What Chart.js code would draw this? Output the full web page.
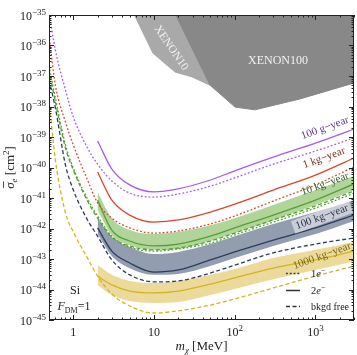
<!DOCTYPE html>
<html>
<head>
<meta charset="utf-8">
<script src="https://cdn.jsdelivr.net/npm/chart.js@4.4.0/dist/chart.umd.min.js"></script>
<style>
  body { margin: 0; background: #fff; }
  canvas { display: block; }
</style>
</head>
<body>
<canvas id="chart" width="357" height="355"></canvas>
<script>
// Dark matter mass grid [MeV]
const massFull = [0.5, 0.6, 0.8, 1, 1.5, 2, 3, 5, 10, 20, 50, 100, 300, 1000, 3000];
const massHigh = [2, 3, 5, 10, 20, 50, 100, 300, 1000, 3000];

// log10 of sigma_e [cm^2]
const purpleDot   = [-34.9, -36.15, -37.46, -38.34, -39.36, -39.89, -40.44, -40.84, -40.97, -40.87, -40.61, -40.34, -39.89, -39.46, -39.03];
const purpleSolid = [-39.13, -40.05, -40.57, -40.80, -40.70, -40.41, -40.11, -39.66, -39.20, -38.74];
const redDot      = [-35.66, -37.30, -38.51, -39.26, -40.41, -41.16, -41.66, -41.98, -42.15, -42.08, -41.85, -41.59, -41.10, -40.57, -39.98];
const redSolid    = [-40.15, -41.07, -41.56, -41.79, -41.72, -41.46, -41.20, -40.74, -40.25, -39.69];
const greenDot    = [-36.67, -37.72, -39.26, -40.02, -41.03, -41.59, -42.25, -42.61, -42.74, -42.67, -42.48, -42.21, -41.79, -41.33, -40.84];
const greenDash   = [-36.80, -37.85, -39.36, -40.08, -41.10, -41.66, -42.28, -42.57, -42.70, -42.64, -42.41, -42.15, -41.72, -41.26, -40.77];
const greenSolid  = [-41.07, -42.05, -42.41, -42.57, -42.51, -42.25, -41.98, -41.56, -41.07, -40.54];
const greenHi     = [-40.80, -41.66, -42.05, -42.18, -42.11, -41.89, -41.66, -41.23, -40.74, -40.28];
const greenLo     = [-41.39, -42.21, -42.54, -42.70, -42.67, -42.41, -42.15, -41.72, -41.23, -40.74];
const navyDash    = [-37.13, -38.05, -39.92, -40.74, -41.72, -42.25, -43.03, -43.52, -43.75, -43.72, -43.46, -43.20, -42.80, -42.51, -42.31];
const navySolid   = [-41.98, -42.74, -43.13, -43.43, -43.36, -43.03, -42.77, -42.38, -41.98, -41.56];
const navyHi      = [-41.66, -42.28, -42.61, -42.84, -42.77, -42.51, -42.25, -41.85, -41.46, -41.07];
const navyLo      = [-42.18, -42.90, -43.30, -43.52, -43.49, -43.23, -42.97, -42.57, -42.18, -41.75];
const goldDash    = [-37.79, -39.75, -41.49, -42.11, -42.97, -43.56, -44.15, -44.54, -44.77, -44.70, -44.51, -44.31, -43.95, -43.56, -43.23];
const goldSolid   = [-43.56, -43.85, -44.05, -44.11, -44.05, -43.82, -43.62, -43.30, -43.03, -42.74];
const goldHi      = [-43.20, -43.52, -43.72, -43.79, -43.72, -43.52, -43.33, -42.97, -42.70, -42.44];
const goldLo      = [-43.85, -44.18, -44.38, -44.44, -44.41, -44.18, -43.98, -43.66, -43.36, -43.07];

// existing limits
const xenon10Mass  = [5.6, 9.7, 18.2, 29.6, 49.4, 100, 1000, 3000];
const xenon10Sigma = [-34.95, -36.25, -36.87, -37.03, -37.30, -37.35, -36.6, -36.2];
const xenon100Mass  = [18.2, 49.4, 101, 178, 646, 3000];
const xenon100Sigma = [-34.95, -37.30, -38.02, -38.11, -37.75, -37.23];

// axis ticks
const xTickValues = [1, 10, 100, 1000];
const xTickLabels = [['1', ''], ['10', ''], ['10', '2'], ['10', '3']];
const yTickExps = [-45, -44, -43, -42, -41, -40, -39, -38, -37, -36, -35];

const SERIF = '"Liberation Serif", "DejaVu Serif", serif';
const PURPLE = '#a65cf2';
const RED = '#d8462c';
const GREEN = '#55a032';
const NAVY = '#2c3c5c';
const GOLD = '#d6b224';
const DOT = [1.8, 2];
const DASH = [4, 2.5];

function pts(ms, ys) {
    return ms.map((m, i) => ({ x: m, y: ys[i] }));
}

const datasets = [];

function addRegion(ms, ys, color, order) {
    datasets.push({
        data: pts(ms, ys), borderColor: color, borderWidth: 1, backgroundColor: color,
        fill: 'end', pointRadius: 0, tension: 0, order: order, clip: 0
    });
}

function addLine(ms, ys, color, dash) {
    datasets.push({
        data: pts(ms, ys), borderColor: color, borderWidth: 1.3, borderDash: dash,
        fill: false, pointRadius: 0, cubicInterpolationMode: 'monotone', order: 3, clip: 0
    });
}

function addBand(ms, hi, lo, color) {
    const i = datasets.length;
    datasets.push({
        data: pts(ms, hi), borderColor: 'transparent', borderWidth: 0,
        fill: false, pointRadius: 0, cubicInterpolationMode: 'monotone', order: 6, clip: 0
    });
    datasets.push({
        data: pts(ms, lo), borderColor: 'transparent', borderWidth: 0, backgroundColor: color,
        fill: { target: i }, pointRadius: 0, cubicInterpolationMode: 'monotone', order: 6, clip: 0
    });
}

addRegion(xenon100Mass, xenon100Sigma, '#888888', 1);
addRegion(xenon10Mass, xenon10Sigma, '#a9a9a9', 2);

addBand(massHigh, greenHi, greenLo, 'rgba(150, 198, 120, 0.75)');
addBand(massHigh, navyHi, navyLo, 'rgba(120, 132, 156, 0.8)');
addBand(massHigh, goldHi, goldLo, 'rgba(228, 205, 120, 0.75)');

addLine(massFull, purpleDot, PURPLE, DOT);
addLine(massHigh, purpleSolid, PURPLE, []);
addLine(massFull, redDot, RED, DOT);
addLine(massHigh, redSolid, RED, []);
addLine(massFull, greenDot, GREEN, DOT);
addLine(massFull, greenDash, GREEN, DASH);
addLine(massHigh, greenSolid, GREEN, []);
addLine(massFull, navyDash, NAVY, DASH);
addLine(massHigh, navySolid, NAVY, []);
addLine(massFull, goldDash, GOLD, DASH);
addLine(massHigh, goldSolid, GOLD, []);

// draw text pieces one after another, returns the pieces with their x
function drawRich(ctx, x, y, segs, align) {
    let w = 0;
    segs.forEach(s => {
        ctx.font = s.font;
        s.w = ctx.measureText(s.t).width;
        w += s.w;
    });
    let cx = align === 'right' ? x - w : align === 'center' ? x - w / 2 : x;
    segs.forEach(s => {
        ctx.font = s.font;
        s.x = cx;
        ctx.fillText(s.t, cx, y + (s.dy || 0));
        cx += s.w;
    });
    return segs;
}

function rotatedLabel(ctx, text, x, y, angle, color, size, box) {
    ctx.save();
    ctx.translate(x, y);
    ctx.rotate(angle);
    ctx.font = size + 'px ' + SERIF;
    const w = ctx.measureText(text).width;
    if (box) {
        ctx.fillStyle = box;
        ctx.fillRect(-w / 2 - 3, -size * 0.6, w + 6, size * 1.2);
    }
    ctx.fillStyle = color;
    ctx.textAlign = 'center';
    ctx.textBaseline = 'middle';
    ctx.fillText(text, 0, 0);
    ctx.restore();
}

const framePlugin = {
    id: 'frame',
    afterDraw(chart) {
        const ctx = chart.ctx;
        const ca = chart.chartArea;
        const xs = chart.scales.x;
        const ys = chart.scales.y;
        ctx.save();
        ctx.strokeStyle = '#222';
        ctx.lineWidth = 1;
        ctx.strokeRect(ca.left + 0.5, ca.top + 0.5, ca.right - ca.left - 1, ca.bottom - ca.top - 1);

        // inner ticks on all four sides
        ctx.beginPath();
        for (let d = -1; d <= 3; d++) {
            for (let k = 1; k <= 9; k++) {
                const v = k * Math.pow(10, d);
                if (v < 0.5 || v > 3000) continue;
                const px = Math.round(xs.getPixelForValue(v)) + 0.5;
                const len = k === 1 ? 5 : 2.5;
                ctx.moveTo(px, ca.bottom); ctx.lineTo(px, ca.bottom - len);
                ctx.moveTo(px, ca.top); ctx.lineTo(px, ca.top + len);
            }
        }
        yTickExps.forEach(e => {
            for (let k = 1; k <= 9; k++) {
                const v = e + Math.log10(k);
                if (v > -35) continue;
                const py = Math.round(ys.getPixelForValue(v)) + 0.5;
                const len = k === 1 ? 5 : 2.5;
                ctx.moveTo(ca.left, py); ctx.lineTo(ca.left + len, py);
                ctx.moveTo(ca.right, py); ctx.lineTo(ca.right - len, py);
            }
        });
        ctx.stroke();

        // tick labels
        ctx.fillStyle = '#222';
        ctx.textAlign = 'left';
        ctx.textBaseline = 'alphabetic';
        yTickExps.forEach(e => {
            const py = ys.getPixelForValue(e);
            drawRich(ctx, ca.left - 3, py + 4.5, [
                { t: '10', font: '12px ' + SERIF },
                { t: '\u2212' + Math.abs(e), font: '9px ' + SERIF, dy: -5 }
            ], 'right');
        });
        xTickValues.forEach((v, i) => {
            const px = xs.getPixelForValue(v);
            const segs = [{ t: xTickLabels[i][0], font: '12px ' + SERIF }];
            if (xTickLabels[i][1]) segs.push({ t: xTickLabels[i][1], font: '9px ' + SERIF, dy: -5 });
            drawRich(ctx, px, ca.bottom + 16, segs, 'center');
        });

        // axis titles
        drawRich(ctx, (ca.left + ca.right) / 2, 350, [
            { t: 'm', font: 'italic 13px ' + SERIF },
            { t: '\u03c7', font: 'italic 9px ' + SERIF, dy: 3 },
            { t: ' [MeV]', font: '13px ' + SERIF }
        ], 'center');

        ctx.save();
        ctx.translate(14, (ca.top + ca.bottom) / 2);
        ctx.rotate(-Math.PI / 2);
        const ySegs = drawRich(ctx, 0, 0, [
            { t: '\u03c3', font: 'italic 13px ' + SERIF },
            { t: 'e', font: 'italic 9px ' + SERIF, dy: 3 },
            { t: ' [cm', font: '13px ' + SERIF },
            { t: '2', font: '9px ' + SERIF, dy: -5 },
            { t: ']', font: '13px ' + SERIF }
        ], 'center');
        ctx.beginPath();
        ctx.moveTo(ySegs[0].x + 1, -10.5);
        ctx.lineTo(ySegs[0].x + ySegs[0].w + 1, -10.5);
        ctx.lineWidth = 0.8;
        ctx.stroke();
        ctx.restore();

        // experiment labels
        rotatedLabel(ctx, 'XENON10', 171, 48, 0.97, '#f2f2f2', 11.5);
        rotatedLabel(ctx, 'XENON100', 278, 61, 0, '#f2f2f2', 12);

        // exposure labels
        const tilt = -0.35;
        rotatedLabel(ctx, '100 g\u2212year', 325, 128, tilt, '#5e3590', 11);
        rotatedLabel(ctx, '1 kg\u2212year', 324, 158, tilt, '#7d2e1e', 11);
        rotatedLabel(ctx, '10 kg\u2212year', 325, 184, tilt, '#2e5a20', 11);
        rotatedLabel(ctx, '100 kg\u2212year', 322, 217, tilt, '#2c3650', 11, 'rgba(255,255,255,0.5)');
        rotatedLabel(ctx, '1000 kg\u2212year', 322, 256, tilt, '#7a6612', 11);

        // target / form factor
        ctx.fillStyle = '#222';
        drawRich(ctx, 75, 294, [{ t: 'Si', font: '12px ' + SERIF }], 'center');
        drawRich(ctx, 74, 310, [
            { t: 'F', font: 'italic 12px ' + SERIF },
            { t: 'DM', font: '8px ' + SERIF, dy: 3 },
            { t: '=1', font: '12px ' + SERIF }
        ], 'center');

        // legend
        const rows = [
            { y: 273, dash: DOT, segs: [{ t: '1', font: '10.5px ' + SERIF }, { t: 'e', font: 'italic 10.5px ' + SERIF }, { t: '\u2212', font: '8px ' + SERIF, dy: -4 }] },
            { y: 290, dash: [], segs: [{ t: '2', font: '10.5px ' + SERIF }, { t: 'e', font: 'italic 10.5px ' + SERIF }, { t: '\u2212', font: '8px ' + SERIF, dy: -4 }] },
            { y: 306, dash: DASH, segs: [{ t: 'bkgd free', font: '10px ' + SERIF }] }
        ];
        rows.forEach(r => {
            ctx.beginPath();
            ctx.setLineDash(r.dash);
            ctx.lineWidth = 1.5;
            ctx.strokeStyle = '#333';
            ctx.moveTo(286, r.y + 0.5);
            ctx.lineTo(300, r.y + 0.5);
            ctx.stroke();
            ctx.setLineDash([]);
            drawRich(ctx, 311, r.y + 4, r.segs, 'left');
        });
        ctx.restore();
    }
};

new Chart(document.getElementById('chart'), {
    type: 'line',
    data: { datasets: datasets },
    options: {
        responsive: false,
        animation: false,
        devicePixelRatio: 1,
        layout: { padding: { left: 0, right: 3, top: 15, bottom: 0 } },
        plugins: { legend: { display: false }, tooltip: { enabled: false } },
        scales: {
            x: {
                type: 'logarithmic', min: 0.5, max: 3000,
                grid: { display: false }, border: { display: false },
                ticks: { display: false },
                afterFit(scale) { scale.height = 35; }
            },
            y: {
                type: 'linear', min: -45, max: -35,
                grid: { display: false }, border: { display: false },
                ticks: { display: false },
                afterFit(scale) { scale.width = 49; }
            }
        }
    },
    plugins: [framePlugin]
});
</script>
</body>
</html>
